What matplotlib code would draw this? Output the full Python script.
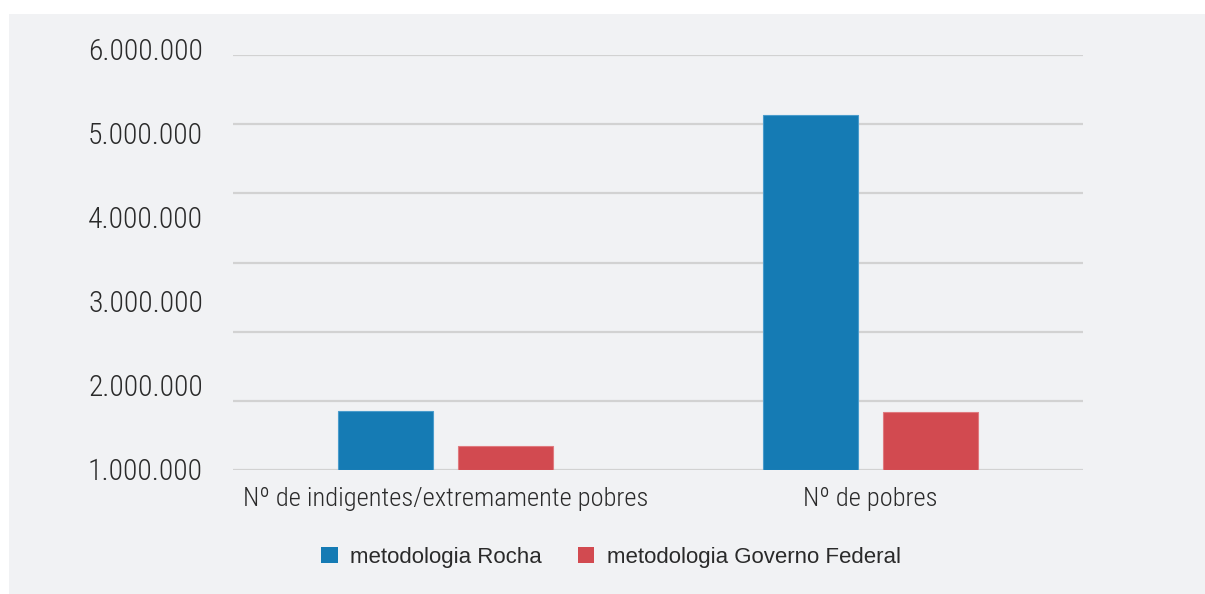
import matplotlib
matplotlib.use("Agg")
import matplotlib.pyplot as plt
from matplotlib.patches import Rectangle, Patch
from matplotlib import font_manager
import matplotlib.transforms as mtransforms
import numpy as np

categories = ["Nº de indigentes/extremamente pobres", "Nº de pobres"]
series_names = ["metodologia Rocha", "metodologia Governo Federal"]
rocha = [853000, 5128000]
governo = [351000, 839000]
tick_values = [1000000, 2000000, 3000000, 4000000, 5000000, 6000000]
tick_labels = ["1.000.000", "2.000.000", "3.000.000", "4.000.000", "5.000.000", "6.000.000"]
grid_values = [0, 1000000, 2000000, 3000000, 4000000, 5000000, 6000000]

colors = ["#157bb4", "#d24a50"]
text_color = "#2a2a2a"
panel_color = "#f1f2f4"
grid_color = "#d2d2d2"

avail = {f.name for f in font_manager.fontManager.ttflist}
cands = ["Roboto Condensed", "Open Sans Condensed", "Liberation Sans Narrow",
         "Liberation Sans", "DejaVu Sans"]
narrow = [f for f in cands if f in avail] or ["DejaVu Sans"]
is_narrow = narrow[0] in ("Roboto Condensed", "Open Sans Condensed", "Liberation Sans Narrow")
big = 20.5 if is_narrow else 17.5
regular = [f for f in ["Liberation Sans", "DejaVu Sans"] if f in avail] or ["DejaVu Sans"]

W, H = 1205, 594
fig = plt.figure(figsize=(W / 100, H / 100), dpi=100, facecolor="white")
fig.patches.append(Rectangle((9 / W, 0), 1 - 9 / W, 1 - 14 / H, transform=fig.transFigure,
                             facecolor=panel_color, edgecolor="none", zorder=-10))

ax = fig.add_axes([233 / W, 1 - 470 / H, (1083 - 233) / W, (470 - 55) / H])
ax.set_facecolor("none")
ax.set_zorder(5)

x = np.arange(len(categories))
bw = 0.2235
off = 0.142
ax.bar(x - off, rocha, bw, color=colors[0], edgecolor="#4a9ccc", linewidth=0.8, zorder=3)
ax.bar(x + off, governo, bw, color=colors[1], edgecolor="#e07a7f", linewidth=0.8, zorder=3)

ax.set_xlim(-0.5, len(categories) - 0.5)
ax.set_ylim(0, 6000000)
ax.set_yticks(grid_values)
ax.tick_params(axis="y", length=0, left=False, labelleft=False)
ax.yaxis.grid(True, color=grid_color, linewidth=1.6, zorder=1)
ax.set_axisbelow(True)
for s in ax.spines.values():
    s.set_visible(False)

ax.set_xticks(x)
ax.set_xticklabels(categories, family=narrow, fontsize=big * 0.93, weight="light",
                   color=text_color)
ax.tick_params(axis="x", length=0, pad=12)

# y labels are spread evenly from the top to the bottom of the plot area
lo, hi = -29000, 6043000
def inv(L):
    return lo + (L - 1000000) / 5000000 * (hi - lo)
trans = mtransforms.blended_transform_factory(ax.transAxes, ax.transData)
for v, lab in zip(tick_values, tick_labels):
    ax.text(-30 / 850, inv(v), lab, transform=trans, ha="right", va="center",
            family=narrow, fontsize=big * 1.04, weight="light", color=text_color, clip_on=False)

handles = [Patch(facecolor=colors[0], edgecolor="none"), Patch(facecolor=colors[1], edgecolor="none")]
fig.legend(handles, series_names, loc="center", bbox_to_anchor=(611 / W, 1 - 557 / H),
           ncol=2, frameon=False, prop={"family": regular, "size": 16},
           handlelength=0.75, handleheight=0.7, handletextpad=0.55, columnspacing=1.6,
           labelcolor=text_color)

fig.savefig("out.png", dpi=100, facecolor="white")
